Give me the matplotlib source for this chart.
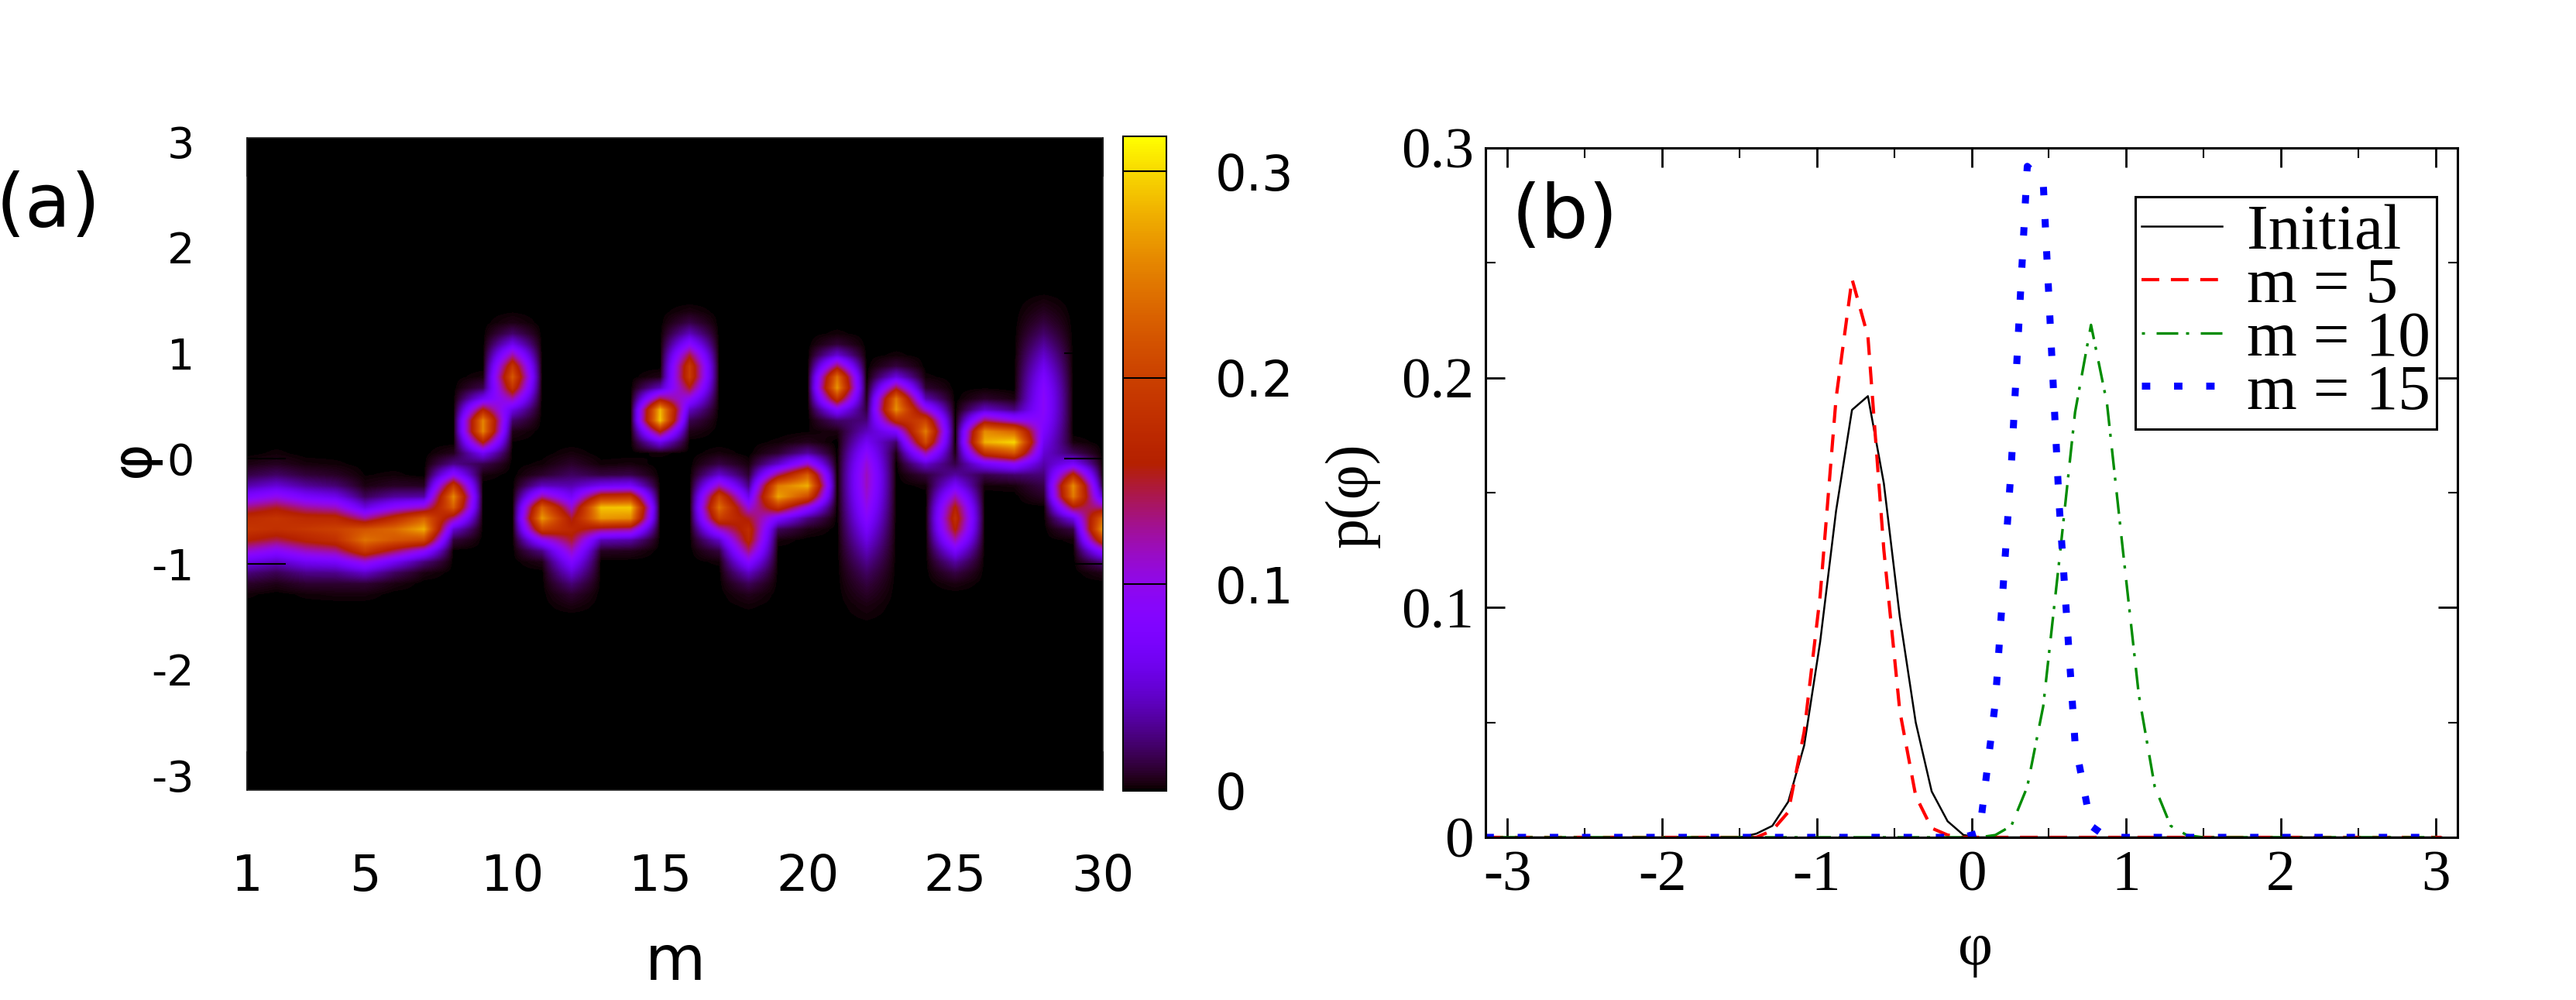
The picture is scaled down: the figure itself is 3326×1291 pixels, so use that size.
import numpy as np
import matplotlib
matplotlib.use("Agg")
import matplotlib.pyplot as plt
from matplotlib.colors import ListedColormap
from matplotlib.font_manager import FontProperties

plt.rcParams['axes.unicode_minus'] = False
plt.rcParams['font.family'] = ['DejaVu Sans']

W, H, DPI = 3326, 1291, 100

# ---------------- data ----------------
N_BINS = 61                        # phase bins covering [-pi, pi)
PHI_MIN = -np.pi
PHI_STEP = 2 * np.pi / N_BINS

# panel (b): p(phi) curves, stored as (first bin index, non-zero values)
initial_start = 17
initial_vals = [0.0016, 0.005, 0.0155, 0.040, 0.085, 0.142, 0.186, 0.192,
                0.154, 0.096, 0.050, 0.020, 0.007, 0.001]
m5_start = 18
m5_vals = [0.003, 0.011, 0.046, 0.105, 0.191, 0.243, 0.218, 0.125, 0.055,
           0.018, 0.004, 0.001]
m10_start = 32
m10_vals = [0.001, 0.005, 0.022, 0.057, 0.120, 0.185, 0.223, 0.189, 0.125,
            0.062, 0.022, 0.005, 0.001]
m15_start = 31
m15_vals = [0.002, 0.059, 0.162, 0.292, 0.285, 0.145, 0.041, 0.005]

legend_labels = ['Initial', 'm = 5', 'm = 10', 'm = 15']

# panel (a): p(phi) for every step m, (first bin index, non-zero values)
m_values = list(range(1, 31))
heat_starts = [18, 19, 18, 18, 18, 19, 20, 23, 29, 32,
               21, 17, 22, 22, 31, 33, 21, 17, 23, 24,
               33, 16, 31, 28, 19, 28, 28, 27, 23, 20]
heat_vals = [
    [0.002, 0.009, 0.026, 0.059, 0.110, 0.161, 0.189, 0.177, 0.132, 0.078, 0.037, 0.014, 0.004],
    [0.005, 0.017, 0.044, 0.088, 0.142, 0.182, 0.187, 0.152, 0.099, 0.051, 0.021, 0.007, 0.002],
    [0.002, 0.010, 0.029, 0.064, 0.115, 0.165, 0.190, 0.174, 0.126, 0.072, 0.033, 0.012, 0.003],
    [0.003, 0.010, 0.030, 0.070, 0.127, 0.181, 0.200, 0.172, 0.115, 0.060, 0.024, 0.008, 0.002],
    [0.003, 0.011, 0.046, 0.105, 0.191, 0.243, 0.218, 0.125, 0.055, 0.018, 0.004, 0.001],
    [0.004, 0.020, 0.064, 0.142, 0.220, 0.236, 0.176, 0.092, 0.033, 0.008, 0.002],
    [0.004, 0.026, 0.094, 0.208, 0.279, 0.229, 0.115, 0.035, 0.007],
    [0.012, 0.049, 0.131, 0.227, 0.258, 0.191, 0.093, 0.029, 0.006],
    [0.003, 0.016, 0.065, 0.162, 0.255, 0.255, 0.162, 0.065, 0.016, 0.003],
    [0.001, 0.005, 0.022, 0.057, 0.120, 0.185, 0.223, 0.189, 0.125, 0.062, 0.022, 0.005, 0.001],
    [0.005, 0.028, 0.093, 0.198, 0.268, 0.230, 0.125, 0.043, 0.009, 0.002],
    [0.004, 0.010, 0.025, 0.050, 0.080, 0.115, 0.150, 0.170, 0.150, 0.110, 0.068, 0.039, 0.020, 0.009, 0.003],
    [0.007, 0.041, 0.139, 0.266, 0.290, 0.179, 0.063, 0.013, 0.002],
    [0.006, 0.036, 0.129, 0.259, 0.293, 0.188, 0.069, 0.015, 0.003],
    [0.002, 0.059, 0.162, 0.292, 0.285, 0.145, 0.041, 0.005],
    [0.005, 0.017, 0.045, 0.094, 0.153, 0.195, 0.193, 0.149, 0.089, 0.042, 0.015, 0.004],
    [0.002, 0.013, 0.045, 0.113, 0.198, 0.240, 0.202, 0.118, 0.048, 0.014, 0.003],
    [0.002, 0.006, 0.018, 0.044, 0.085, 0.134, 0.171, 0.178, 0.151, 0.104, 0.059, 0.027, 0.010, 0.003],
    [0.003, 0.019, 0.076, 0.184, 0.274, 0.248, 0.137, 0.046, 0.010, 0.002],
    [0.005, 0.027, 0.097, 0.211, 0.280, 0.226, 0.112, 0.034, 0.006, 0.001],
    [0.004, 0.022, 0.081, 0.184, 0.265, 0.241, 0.140, 0.051, 0.012, 0.002],
    [0.002, 0.004, 0.008, 0.013, 0.020, 0.030, 0.042, 0.056, 0.070, 0.085, 0.098, 0.109, 0.116,
     0.117, 0.108, 0.090, 0.066, 0.043, 0.025, 0.012, 0.005, 0.002],
    [0.004, 0.021, 0.077, 0.178, 0.262, 0.245, 0.145, 0.054, 0.013, 0.002],
    [0.002, 0.012, 0.047, 0.121, 0.211, 0.250, 0.200, 0.108, 0.039, 0.010, 0.002],
    [0.004, 0.014, 0.035, 0.071, 0.119, 0.162, 0.180, 0.162, 0.119, 0.071, 0.035, 0.014, 0.004],
    [0.002, 0.015, 0.069, 0.181, 0.281, 0.259, 0.140, 0.045, 0.009, 0.001],
    [0.003, 0.022, 0.092, 0.220, 0.300, 0.233, 0.103, 0.026, 0.004],
    [0.008, 0.015, 0.025, 0.037, 0.050, 0.063, 0.075, 0.085, 0.090, 0.090, 0.085, 0.075, 0.062,
     0.048, 0.034, 0.022, 0.013, 0.007, 0.003],
    [0.002, 0.014, 0.058, 0.152, 0.249, 0.260, 0.171, 0.072, 0.019, 0.003],
    [0.005, 0.026, 0.089, 0.194, 0.268, 0.233, 0.129, 0.045, 0.010, 0.001],
]

a_xticks = [1, 5, 10, 15, 20, 25, 30]
a_xticklabels = ['1', '5', '10', '15', '20', '25', '30']
a_yticks = [-3, -2, -1, 0, 1, 2, 3]
a_yticklabels = ['-3', '-2', '-1', '0', '1', '2', '3']
cb_ticks = [0, 0.1, 0.2, 0.3]
cb_ticklabels = ['0', '0.1', '0.2', '0.3']
CB_MAX = 0.317
b_xticks = [-3, -2, -1, 0, 1, 2, 3]
b_xticklabels = ['-3', '-2', '-1', '0', '1', '2', '3']
b_yticks = [0, 0.1, 0.2, 0.3]
b_yticklabels = ['0', '0.1', '0.2', '0.3']

# ---------------- helpers ----------------
phi = PHI_MIN + PHI_STEP * np.arange(N_BINS)


def expand(start, vals):
    arr = np.zeros(N_BINS)
    arr[start:start + len(vals)] = vals
    return arr


Z = np.column_stack([expand(s, v) for s, v in zip(heat_starts, heat_vals)])

# gnuplot-like "traditional pm3d" palette (rgbformulae 7,5,15)
_x = np.linspace(0, 1, 256)
cmap = ListedColormap(np.stack([np.sqrt(_x), _x ** 3,
                                np.clip(np.sin(2 * np.pi * _x), 0, 1)], axis=1))

fig = plt.figure(figsize=(W / DPI, H / DPI), dpi=DPI, facecolor='white')


def fr(x0, y0, x1, y1):
    return [x0 / W, 1 - y1 / H, (x1 - x0) / W, (y1 - y0) / H]


# ---------------- panel (a) ----------------
axL = fig.add_axes(fr(319, 178, 1424, 1020))
im = axL.imshow(Z, origin='lower', aspect='auto', cmap=cmap, vmin=0, vmax=CB_MAX,
                extent=[m_values[0] - 0.5, m_values[-1] + 0.5,
                        phi[0] - PHI_STEP / 2, phi[-1] + PHI_STEP / 2],
                interpolation='bilinear', interpolation_stage='data')
axL.set_xlim(m_values[0], m_values[-1])
axL.set_ylim(phi[0], phi[-1])
axL.set_xticks(a_xticks)
axL.set_xticklabels(a_xticklabels)
axL.set_yticks(a_yticks)
axL.set_yticklabels(a_yticklabels)
axL.tick_params(direction='in', length=36, width=1.5, color='black',
                left=True, right=True, top=True, bottom=True)
axL.tick_params(axis='y', labelsize=40, pad=49)
axL.tick_params(axis='x', labelsize=46, pad=58)
for sp in axL.spines.values():
    sp.set_linewidth(1.2)
    sp.set_color('#222222')
axL.set_xlabel('m', fontsize=58)
axL.xaxis.set_label_coords(0.5, -0.265)
axL.xaxis.label.set_va('center')
axL.set_ylabel('φ', fontsize=52)
axL.yaxis.set_label_coords(-0.133, 0.508)
axL.yaxis.label.set_va('center')

fig.text(62 / W, 1 - 266 / H, '(a)', fontsize=70, ha='center', va='center')

# colorbar
cax = fig.add_axes(fr(1450, 176, 1506, 1021))
cb = fig.colorbar(im, cax=cax, ticks=cb_ticks)
cb.set_ticklabels(cb_ticklabels)
cax.tick_params(length=0, labelsize=46, pad=45)
for t in cb_ticks[1:]:
    cax.axhline(t, color='black', lw=1.5)
cb.outline.set_linewidth(1.5)

# ---------------- panel (b) ----------------
serif = 'Liberation Serif'
axR = fig.add_axes(fr(1918, 191, 3173, 1081))
axR.plot(phi, expand(initial_start, initial_vals), color='black', lw=1.8,
         label=legend_labels[0])
axR.plot(phi, expand(m5_start, m5_vals), color='#ff0000', lw=3.0,
         linestyle=(0, (5.5, 3.6)), label=legend_labels[1])
axR.plot(phi, expand(m10_start, m10_vals), color='#008c00', lw=2.4,
         linestyle=(0, (1.2, 4.5, 8.4, 3.0)), label=legend_labels[2])
axR.plot(phi, expand(m15_start, m15_vals), color='#0000ff', lw=6.5,
         linestyle=(0, (1.2, 3.4)), label=legend_labels[3])
axR.set_xlim(-np.pi, np.pi)
axR.set_ylim(0, 0.3)
axR.set_xticks(b_xticks)
axR.set_xticklabels(b_xticklabels)
axR.set_yticks(b_yticks)
axR.set_yticklabels(b_yticklabels)
axR.set_xticks(np.array(b_xticks[:-1]) + 0.5, minor=True)
axR.set_yticks(np.array(b_yticks[:-1]) + 0.05, minor=True)
axR.tick_params(which='both', direction='in', top=True, right=True, color='black')
axR.tick_params(which='major', length=18, width=2)
axR.tick_params(which='minor', length=9, width=1.5)
axR.tick_params(axis='x', which='major', pad=12)
axR.tick_params(axis='y', which='major', pad=11)
for lab in axR.get_xticklabels() + axR.get_yticklabels():
    lab.set_fontfamily(serif)
    lab.set_fontsize(54)
for sp in axR.spines.values():
    sp.set_linewidth(2.2)
axR.set_xlabel('φ', fontsize=56, fontfamily=serif)
axR.xaxis.set_label_coords(0.504, -0.163)
axR.xaxis.label.set_va('center')
axR.set_ylabel('p(φ)', fontsize=56, fontfamily=serif)
axR.yaxis.set_label_coords(-0.137, 0.496)
axR.yaxis.label.set_va('center')
axR.text(0.082, 0.90, '(b)', transform=axR.transAxes, fontsize=70,
         ha='center', va='center')

leg = axR.legend(loc='upper right', bbox_to_anchor=(0.9785, 0.929),
                 bbox_transform=axR.transAxes,
                 prop=FontProperties(family=serif, size=60),
                 frameon=True, fancybox=False, edgecolor='black', framealpha=1,
                 borderpad=0.1, labelspacing=-0.089, handlelength=1.25,
                 handletextpad=0.38, borderaxespad=0)
leg.get_frame().set_linewidth(2.2)

fig.savefig('out.png', dpi=DPI, facecolor='white')
